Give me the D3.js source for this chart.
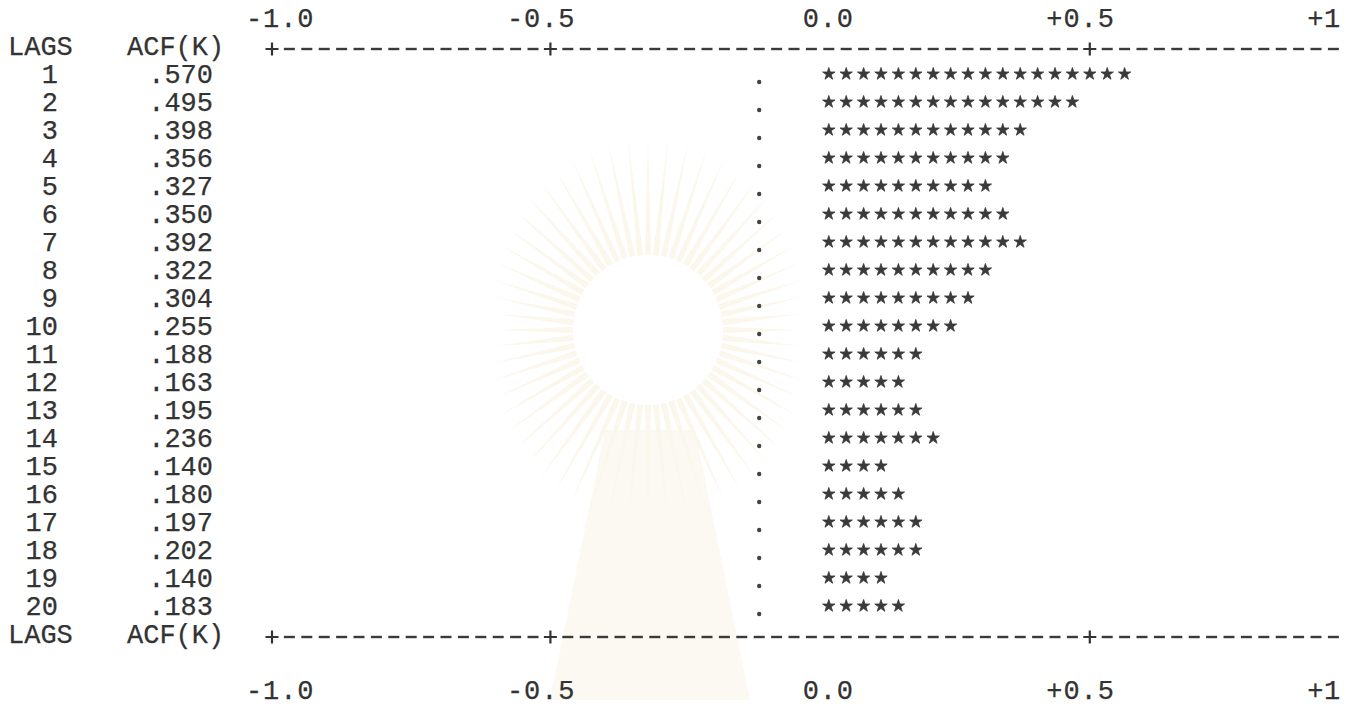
<!DOCTYPE html>
<html>
<head>
<meta charset="utf-8">
<script src="https://cdn.jsdelivr.net/npm/d3@7"></script>
<style>
  body { margin: 0; background: #fff; }
  svg text { font-family: "Courier New", "Liberation Mono", monospace; font-size: 27px;
             fill: #333; stroke: #333; stroke-width: 0.25; }
</style>
</head>
<body>
<script>
// ACF printout: lags and autocorrelations as printed
const lags = [1, 2, 3, 4, 5, 6, 7, 8, 9, 10, 11, 12, 13, 14, 15, 16, 17, 18, 19, 20];
const acf = [0.570, 0.495, 0.398, 0.356, 0.327, 0.350, 0.392, 0.322, 0.304, 0.255,
             0.188, 0.163, 0.195, 0.236, 0.140, 0.180, 0.197, 0.202, 0.140, 0.183];
const tickValues = [-1, -0.5, 0, 0.5, 1];
const tickLabels = ["-1.0", "-0.5", "0.0", "+0.5", "+1"];
const ruleMarks = [-1, -0.5, 0.5];   // where the dashed rule has a "+"
const confLimit = 0.104;             // the "." column (2 s.e.)
const headers = ["LAGS", "ACF(K)"];

const width = 1355, height = 728;
const charW = 17.4;
const lastCol = 61;

// character column -> pixel centre
const colX = d3.scaleLinear().domain([0, 1]).range([272, 272 + charW]);
// acf value -> character column
const valueCol = d3.scaleLinear().domain([-1, 1]).range([0, 62.5]);
// printed line -> pixel centre (0 = top ticks, 1 = header, 2.. lags)
const lineY = d3.scaleLinear().domain([0, 1]).range([18, 46]);

const svg = d3.select("body").append("svg")
  .attr("width", width)
  .attr("height", height);

// very faint emblem in the background of the scan
const bg = svg.append("g").attr("fill", "#fbf7ec");
const cx = 648, cy = 330;
d3.range(0, 360, 6).forEach(a => {
  const t = a * Math.PI / 180;
  const r0 = 75, r1 = 150 + 45 * Math.abs(Math.sin(t));
  bg.append("path")
    .attr("d", `M${cx + r0 * Math.cos(t - 0.04)},${cy + r0 * Math.sin(t - 0.04)}
      L${cx + r1 * Math.cos(t)},${cy + r1 * Math.sin(t)}
      L${cx + r0 * Math.cos(t + 0.04)},${cy + r0 * Math.sin(t + 0.04)}Z`);
});
bg.append("path").attr("d", "M605,430 L695,430 L750,700 L550,700 Z").attr("opacity", 0.7);

// dashed rule, drawn on header and footer lines
function drawRule(line) {
  const y = lineY(line) + 3;
  const plusCols = ruleMarks.map(v => Math.round(valueCol(v)));
  const g = svg.append("g");
  d3.range(0, lastCol + 1).forEach(c => {
    const x = colX(c);
    if (plusCols.includes(c)) {
      g.append("path")
        .attr("d", `M${x - 6.5},${y} H${x + 6.5} M${x},${y - 6.5} V${y + 6.5}`)
        .attr("stroke", "#333").attr("stroke-width", 2.2).attr("fill", "none");
    } else {
      g.append("rect")
        .attr("x", x - 5.5).attr("y", y - 1.2)
        .attr("width", 11).attr("height", 2.4)
        .attr("fill", "#3a3a3a");
    }
  });
}

function drawHeader(line) {
  const y = lineY(line) + 9;
  svg.append("text").attr("x", 8).attr("y", y).text(headers[0]);
  svg.append("text").attr("x", 127).attr("y", y).text(headers[1]);
  drawRule(line);
}

function drawTicks(line) {
  const y = lineY(line) + 9;
  svg.append("g").selectAll("text")
    .data(tickValues)
    .join("text")
    .attr("x", (d, i) => {
      const lab = tickLabels[i];
      let start = Math.ceil(valueCol(d)) - lab.indexOf(".");
      start = Math.max(-1, Math.min(lastCol + 1 - lab.length, start));
      return colX(start) - charW / 2;
    })
    .attr("y", y)
    .attr("textLength", (d, i) => tickLabels[i].length * charW - 2)
    .text((d, i) => tickLabels[i]);
}

drawTicks(0);
drawHeader(1);

const fmt = v => d3.format(".3f")(v).replace(/^0/, "");
const zeroCol = Math.ceil(valueCol(0));
const dotCols = [Math.round(valueCol(-confLimit)), Math.round(valueCol(confLimit))];
const star = d3.symbol().type(d3.symbolStar).size(48);

const rows = svg.append("g").selectAll("g")
  .data(lags.map((l, i) => ({ lag: l, v: acf[i], line: i + 2 })))
  .join("g")
  .attr("transform", d => `translate(0,${lineY(d.line)})`);

rows.append("text")
  .attr("x", 58).attr("y", 9)
  .attr("text-anchor", "end")
  .text(d => d.lag);

rows.append("text")
  .attr("x", 213).attr("y", 9)
  .attr("text-anchor", "end")
  .text(d => fmt(d.v));

rows.each(function (d) {
  const g = d3.select(this);
  const endCol = Math.floor(valueCol(d.v));
  const cols = d3.range(zeroCol, endCol + 1);
  g.selectAll("path.star")
    .data(cols)
    .join("path")
    .attr("class", "star")
    .attr("transform", c => `translate(${colX(c)},0)`)
    .attr("d", star)
    .attr("fill", "#3a3a3a")
    .attr("stroke", "#3a3a3a")
    .attr("stroke-width", 0.8)
    .attr("stroke-linejoin", "round");
  g.selectAll("circle")
    .data(dotCols.filter(c => !cols.includes(c)))
    .join("circle")
    .attr("cx", c => colX(c))
    .attr("cy", 8)
    .attr("r", 2.2)
    .attr("fill", "#444");
});

drawHeader(lags.length + 2);
drawTicks(lags.length + 4);
</script>
</body>
</html>
